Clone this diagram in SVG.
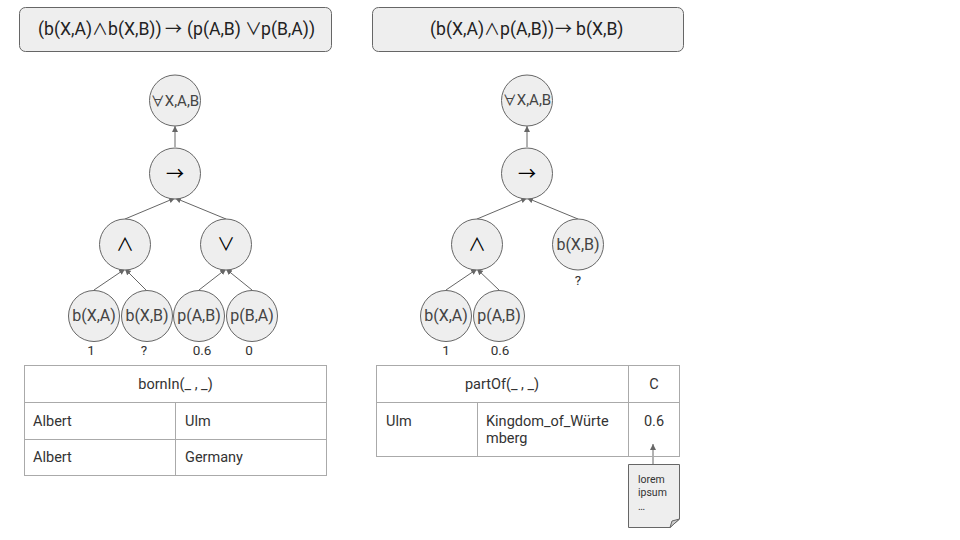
<svg xmlns="http://www.w3.org/2000/svg" width="960" height="540" viewBox="0 0 960 540">
<style>
text{font-family:Roboto,"Liberation Sans",sans-serif;fill:#333}
.f{fill:#222;font-size:17.600px}
.s{font-family:"Noto Sans CJK JP","DejaVu Sans",sans-serif}
.n circle{fill:#eee;stroke:#666;stroke-width:1}
.n text{text-anchor:middle;font-size:16px;fill:#444}
.op text{fill:#000;font-size:18px;font-family:"Noto Sans CJK JP","DejaVu Sans",sans-serif}
.v{text-anchor:middle;font-size:13.500px;fill:#333}
.box{fill:#eee;stroke:#666;stroke-width:1}
.c line{stroke:#666;stroke-width:1;marker-end:url(#a)}
.t line{stroke:#aaa;stroke-width:1}
.t text{font-size:14.500px;fill:#333}
.m{text-anchor:middle}
</style>
<defs><marker id="a" markerUnits="userSpaceOnUse" markerWidth="7" markerHeight="7" refX="6" refY="3" orient="auto"><path d="M0 0L6 3L0 6Z" fill="#666"/></marker></defs>
<rect width="960" height="540" fill="#fff"/>
<g id="formula-1"><rect class="box" x="19.500" y="7.500" width="312" height="44" rx="6"/><text class="f" y="35"><tspan x="38">(b(X,A)</tspan><tspan class="s" x="92" font-size="16">∧</tspan><tspan x="108">b(X,B))</tspan><tspan class="s" x="165" font-size="17">→</tspan><tspan x="187">(p(A,B)</tspan><tspan class="s" x="245" font-size="17">∨</tspan><tspan x="261">p(B,A))</tspan></text></g>
<g id="formula-2"><rect class="box" x="372.500" y="7.500" width="311" height="44" rx="6"/><text class="f" y="35"><tspan x="430">(b(X,A)</tspan><tspan class="s" x="484" font-size="16">∧</tspan><tspan x="500">p(A,B))</tspan><tspan class="s" x="555" font-size="17">→</tspan><tspan x="576">b(X,B)</tspan></text></g>
<g class="c" id="connectors">
<line x1="175" y1="147" x2="175" y2="126"/>
<line x1="125" y1="219" x2="175" y2="198"/><line x1="226" y1="219" x2="175" y2="198"/>
<line x1="94" y1="290" x2="125" y2="269"/><line x1="146" y1="290" x2="125" y2="269"/>
<line x1="199" y1="290" x2="226" y2="269"/><line x1="252" y1="290" x2="226" y2="269"/>
<line x1="527" y1="147" x2="527" y2="126"/>
<line x1="477" y1="219" x2="527" y2="198"/><line x1="578" y1="219" x2="527" y2="198"/>
<line x1="446" y1="290" x2="477" y2="269"/><line x1="499" y1="290" x2="477" y2="269"/>
<line x1="653" y1="464" x2="653" y2="444"/>
</g>
<g id="n1" class="n"><circle cx="175" cy="100.500" r="25.500"/><text x="175" y="106" style="font-size:15px"><tspan class="s" font-size="14">∀</tspan>X,A,B</text></g>
<g id="n2" class="n op"><circle cx="175" cy="173.500" r="25.500"/><text x="175" y="180">→</text></g>
<g id="n3" class="n op"><circle cx="125" cy="244.500" r="25.500"/><text x="125" y="251">∧</text></g>
<g id="n4" class="n op"><circle cx="226" cy="244.500" r="25.500"/><text x="226" y="251">∨</text></g>
<g id="n5" class="n"><circle cx="94" cy="316" r="25.500"/><text x="94" y="321">b(X,A)</text></g>
<g id="n6" class="n"><circle cx="147" cy="316" r="25.500"/><text x="147" y="321">b(X,B)</text></g>
<g id="n7" class="n"><circle cx="199" cy="316" r="25.500"/><text x="199" y="321">p(A,B)</text></g>
<g id="n8" class="n"><circle cx="252" cy="316" r="25.500"/><text x="252" y="321">p(B,A)</text></g>
<text class="v" x="91" y="355">1</text><text class="v" x="144" y="355">?</text><text class="v" x="202" y="355">0.6</text><text class="v" x="249" y="355">0</text>
<g id="m1" class="n"><circle cx="527" cy="100.500" r="25.500"/><text x="527" y="105" style="font-size:15px"><tspan class="s" font-size="14">∀</tspan>X,A,B</text></g>
<g id="m2" class="n op"><circle cx="527" cy="173.500" r="25.500"/><text x="527" y="180">→</text></g>
<g id="m3" class="n op"><circle cx="477" cy="244.500" r="25.500"/><text x="477" y="251">∧</text></g>
<g id="m4" class="n"><circle cx="578" cy="244.500" r="25.500"/><text x="578" y="250">b(X,B)</text></g>
<g id="m5" class="n"><circle cx="446" cy="316" r="25.500"/><text x="446" y="321">b(X,A)</text></g>
<g id="m6" class="n"><circle cx="499" cy="316" r="25.500"/><text x="499" y="321">p(A,B)</text></g>
<text class="v" x="578" y="285">?</text><text class="v" x="446" y="355">1</text><text class="v" x="500" y="355">0.6</text>
<g id="table-1" class="t">
<line x1="24" y1="365.500" x2="327" y2="365.500"/><line x1="24" y1="402.500" x2="327" y2="402.500"/><line x1="24" y1="439.500" x2="327" y2="439.500"/><line x1="24" y1="475.500" x2="327" y2="475.500"/>
<line x1="24.500" y1="365" x2="24.500" y2="476"/><line x1="326.500" y1="365" x2="326.500" y2="476"/><line x1="175.500" y1="402" x2="175.500" y2="476"/>
<text class="m" x="175.500" y="389">bornIn(_ , _)</text><text x="33" y="426">Albert</text><text x="185" y="426">Ulm</text><text x="33" y="462">Albert</text><text x="185" y="462">Germany</text>
</g>
<g id="table-2" class="t">
<line x1="376" y1="365.500" x2="680" y2="365.500"/><line x1="376" y1="402.500" x2="680" y2="402.500"/><line x1="376" y1="456.500" x2="680" y2="456.500"/>
<line x1="376.500" y1="365" x2="376.500" y2="457"/><line x1="628.500" y1="365" x2="628.500" y2="457"/><line x1="679.500" y1="365" x2="679.500" y2="457"/><line x1="477.500" y1="402" x2="477.500" y2="457"/>
<text class="m" x="502" y="389">partOf(_ , _)</text><text class="m" x="654" y="389">C</text><text x="386" y="426">Ulm</text><text x="486" y="426">Kingdom_of_Würte</text><text x="486" y="443">mberg</text><text class="m" x="654" y="426">0.6</text>
</g>
<g id="note"><path class="box" d="M628.500 464.500H679.500V519L670 527.500H628.500Z"/><path d="M670 527.500L672 521L679.500 519Z" fill="#ccc" stroke="#666"/>
<text x="638" y="483" font-size="10.500px">lorem</text><text x="638" y="496" font-size="10.500px">ipsum</text><text x="638" y="510" font-size="10.500px">…</text></g>
</svg>
